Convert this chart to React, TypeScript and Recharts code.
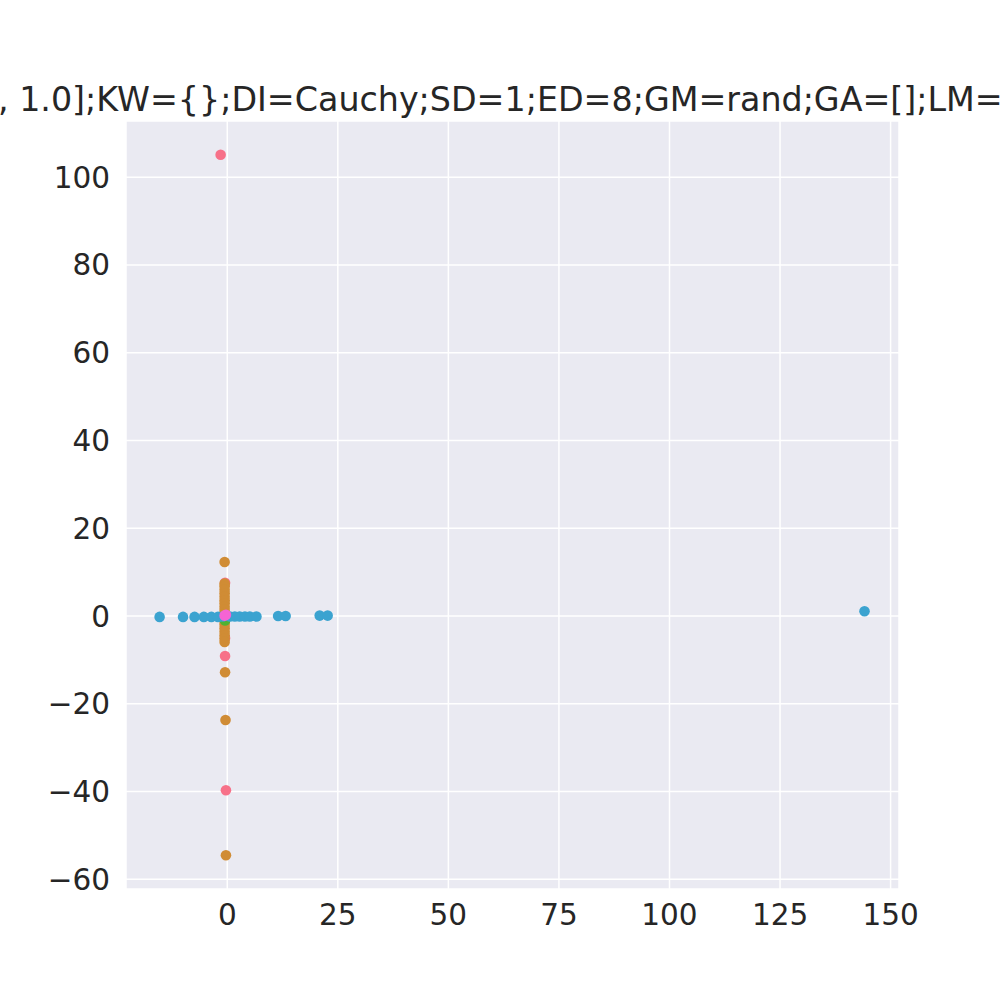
import { CartesianGrid, Scatter, ScatterChart, XAxis, YAxis } from "recharts";

const TITLE = ", 1.0];KW={};DI=Cauchy;SD=1;ED=8;GM=rand;GA=[];LM=";

const X_TICKS = [0, 25, 50, 75, 100, 125, 150];
const Y_TICKS = [-60, -40, -20, 0, 20, 40, 60, 80, 100];

// drawn in this order, later ones on top
const pinkPoints = [
  { x: -1.5, y: 105.1 },
  { x: -0.5, y: 7.6 },
  { x: -0.5, y: -5.0 },
  { x: -0.5, y: -9.1 },
  { x: -0.3, y: -39.7 },
];

const orangePoints = [
  { x: -0.6, y: 12.3 },
  { x: -0.6, y: 7.4 },
  { x: -0.6, y: 6.8 },
  { x: -0.6, y: 6.0 },
  { x: -0.6, y: 5.2 },
  { x: -0.6, y: 4.4 },
  { x: -0.6, y: 3.6 },
  { x: -0.6, y: 2.9 },
  { x: -0.6, y: 2.1 },
  { x: -0.6, y: 1.4 },
  { x: -0.6, y: 0.7 },
  { x: -0.6, y: 0.1 },
  { x: -0.6, y: -0.6 },
  { x: -0.6, y: -1.3 },
  { x: -0.6, y: -2.0 },
  { x: -0.6, y: -2.8 },
  { x: -0.6, y: -3.6 },
  { x: -0.6, y: -4.4 },
  { x: -0.6, y: -5.1 },
  { x: -0.6, y: -5.9 },
  { x: -0.5, y: -12.8 },
  { x: -0.4, y: -23.7 },
  { x: -0.3, y: -54.5 },
];

const greenPoints = [
  { x: -0.5, y: -1.0 },
];

const bluePoints = [
  { x: -15.3, y: -0.2 },
  { x: -10.0, y: -0.2 },
  { x: -7.4, y: -0.2 },
  { x: -5.3, y: -0.2 },
  { x: -3.6, y: -0.2 },
  { x: -2.1, y: -0.2 },
  { x: -1.0, y: -0.1 },
  { x: 0.6, y: -0.1 },
  { x: 1.7, y: -0.1 },
  { x: 2.8, y: -0.1 },
  { x: 4.0, y: -0.1 },
  { x: 5.1, y: -0.1 },
  { x: 6.6, y: -0.1 },
  { x: 11.5, y: 0.0 },
  { x: 13.2, y: 0.0 },
  { x: 20.9, y: 0.1 },
  { x: 22.7, y: 0.1 },
  { x: 144.1, y: 1.1 },
];

const magentaPoints = [
  { x: -0.6, y: 0.1 },
  { x: -0.3, y: 0.3 },
];

const FONT = "'DejaVu Sans', sans-serif";
const INK = "#262626";

const dot = (color: string) => (props: any) =>
  <circle cx={props.cx} cy={props.cy} r={5.3} fill={color} />;

const fmt = (v: number) => (v < 0 ? `\u2212${-v}` : `${v}`);

export default function App() {
  return (
    <div style={{ position: "absolute", left: 0, top: 0, width: 1000, height: 1000, background: "#fff" }}>
      <ScatterChart
        width={1000}
        height={1000}
        margin={{ top: 121, right: 101, bottom: 0, left: 0 }}
      >
        <CartesianGrid stroke="#ffffff" strokeWidth={1.5} fill="#EAEAF2" fillOpacity={1} />
        <XAxis
          type="number"
          dataKey="x"
          domain={[-22.9, 151.9]}
          ticks={X_TICKS}
          allowDataOverflow
          axisLine={false}
          tickLine={false}
          tickSize={0}
          tickMargin={15}
          height={111}
          tickFormatter={fmt}
          tick={{ fill: INK, fontSize: 29.5, fontFamily: FONT }}
        />
        <YAxis
          type="number"
          dataKey="y"
          domain={[-62.2, 112.8]}
          ticks={Y_TICKS}
          allowDataOverflow
          axisLine={false}
          tickLine={false}
          tickSize={0}
          tickMargin={16}
          width={126}
          tickFormatter={fmt}
          tick={{ fill: INK, fontSize: 29.5, fontFamily: FONT }}
        />
        <Scatter data={pinkPoints} shape={dot("#f77189")} isAnimationActive={false} />
        <Scatter data={orangePoints} shape={dot("#d08c35")} isAnimationActive={false} />
        <Scatter data={greenPoints} shape={dot("#50b131")} isAnimationActive={false} />
        <Scatter data={bluePoints} shape={dot("#3ba3d0")} isAnimationActive={false} />
        <Scatter data={magentaPoints} shape={dot("#f564d4")} isAnimationActive={false} />
      </ScatterChart>
      <svg
        width={1000}
        height={1000}
        style={{ position: "absolute", left: 0, top: 0, pointerEvents: "none" }}
      >
        <text x={-2} y={111} fill={INK} fontSize={33.3} fontFamily={FONT}>
          {TITLE}
        </text>
      </svg>
    </div>
  );
}
